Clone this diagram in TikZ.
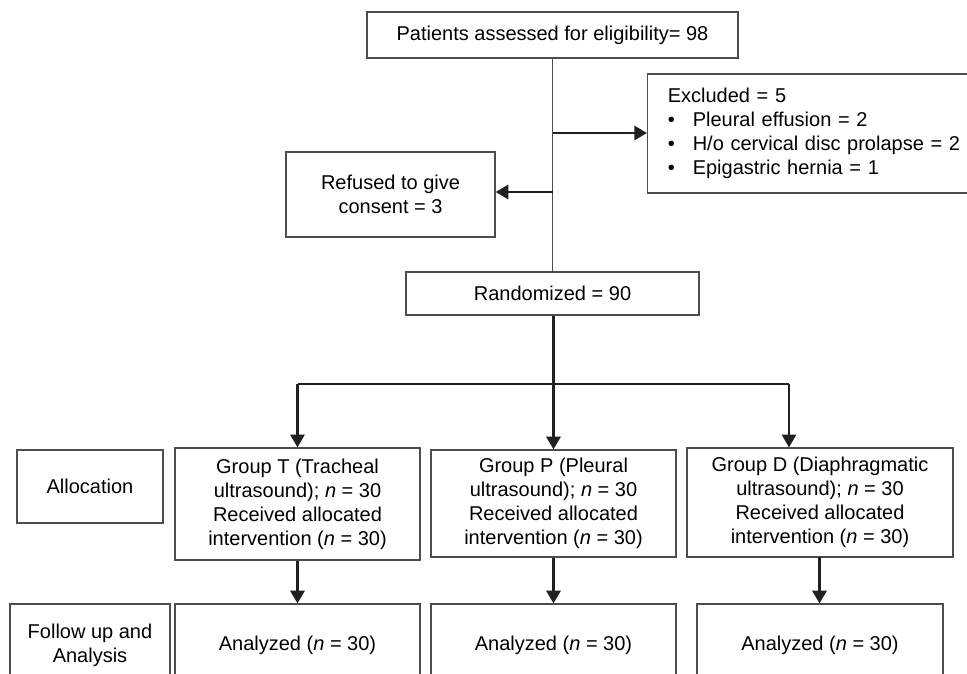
\documentclass[tikz,border=0pt]{standalone}
\usepackage{fontspec}
\setmainfont{Liberation Sans}
\usetikzlibrary{arrows.meta}
\definecolor{linegray}{HTML}{4D4D4D}
\definecolor{inkblack}{HTML}{231F20}
\tikzset{
  box/.style={draw=linegray, line width=0.9pt, align=center, inner sep=0pt,
    font=\fontsize{15}{18}\selectfont},
  size/.style 2 args={minimum width=#1*0.75pt, minimum height=#2*0.75pt},
  flow/.style={draw=inkblack, line width=2.2pt},
  flowarrow/.style={flow, -{Triangle[length=9.5pt,width=10.5pt]}},
}
\newcommand{\nsym}{{\itshape n}}
\newcommand{\bul}{\makebox[18.75pt][l]{\textbullet}}
\begin{document}
\begin{tikzpicture}[x=0.75pt, y=-0.75pt]
				\useasboundingbox (0,0) rectangle (967,674);
				% boxes
				\node[box, size={371}{46}] (top) at (552.5,35) {Patients assessed for eligibility= 98};
				\node[box, anchor=west, align=left, inner xsep=15pt, text width=227pt, size={343}{119}] (excl) at (647,133.5)
				{Excluded = 5\\ \bul Pleural effusion = 2\\ \bul H/o cervical disc prolapse = 2\\ \bul Epigastric hernia = 1};
				\node[box, size={209}{85}] (refused) at (390.5,194.5) {Refused to give\\ consent = 3};
				\node[box, size={293}{43}] (rand) at (552.5,293.5) {Randomized = 90};
				\node[box, size={146}{73}] (alloc) at (90,486.5) {Allocation};
				\node[box, size={245}{112}] (grpT) at (297.5,504) {Group T (Tracheal\\ ultrasound); \nsym{} = 30\\ Received allocated\\ intervention (\nsym{} = 30)};
				\node[box, size={245}{107}] (grpP) at (553.5,503.5) {Group P (Pleural\\ ultrasound); \nsym{} = 30\\ Received allocated\\ intervention (\nsym{} = 30)};
				\node[box, size={266}{109}] (grpD) at (820,502.5) {Group D (Diaphragmatic\\ ultrasound); \nsym{} = 30\\ Received allocated\\ intervention (\nsym{} = 30)};
				\node[box, size={160}{83}] (follow) at (90,645.5) {Follow up and\\ Analysis};
				\node[box, size={245}{83}] (anaT) at (297.5,645.5) {Analyzed (\nsym{} = 30)};
				\node[box, size={245}{83}] (anaP) at (553.5,645.5) {Analyzed (\nsym{} = 30)};
				\node[box, size={246}{83}] (anaD) at (820,645.5) {Analyzed (\nsym{} = 30)};
				\path
				coordinate (forkT) at (297.5,384)
				coordinate (forkP) at (553.5,384)
				coordinate (forkD) at (789,384)
				coordinate (dropD) at (819.5,557)
				;
				% connectors
				\draw[draw=linegray, line width=1pt] (top.south) -- (rand.north);
				\draw[flowarrow] (top.south |- 0,133) -- (excl.west |- 0,133);
				\draw[flowarrow] (top.south |- 0,192) -- (refused.east |- 0,192);
				\draw[flow] (rand.south -| forkP) -- (forkP);
				\draw[flow] (forkT) -- (forkD);
				\draw[flowarrow, line width=1.7pt] (forkT) -- (forkT |- grpT.north);
				\draw[flowarrow] (forkP) -- (forkP |- grpP.north);
				\draw[flowarrow, line width=1.7pt] (forkD) -- (forkD |- grpD.north);
				\draw[flowarrow] (grpT.south) -- (anaT.north);
				\draw[flowarrow] (grpP.south) -- (anaP.north);
				\draw[flowarrow] (dropD) -- (dropD |- anaD.north);
\end{tikzpicture}
\end{document}
